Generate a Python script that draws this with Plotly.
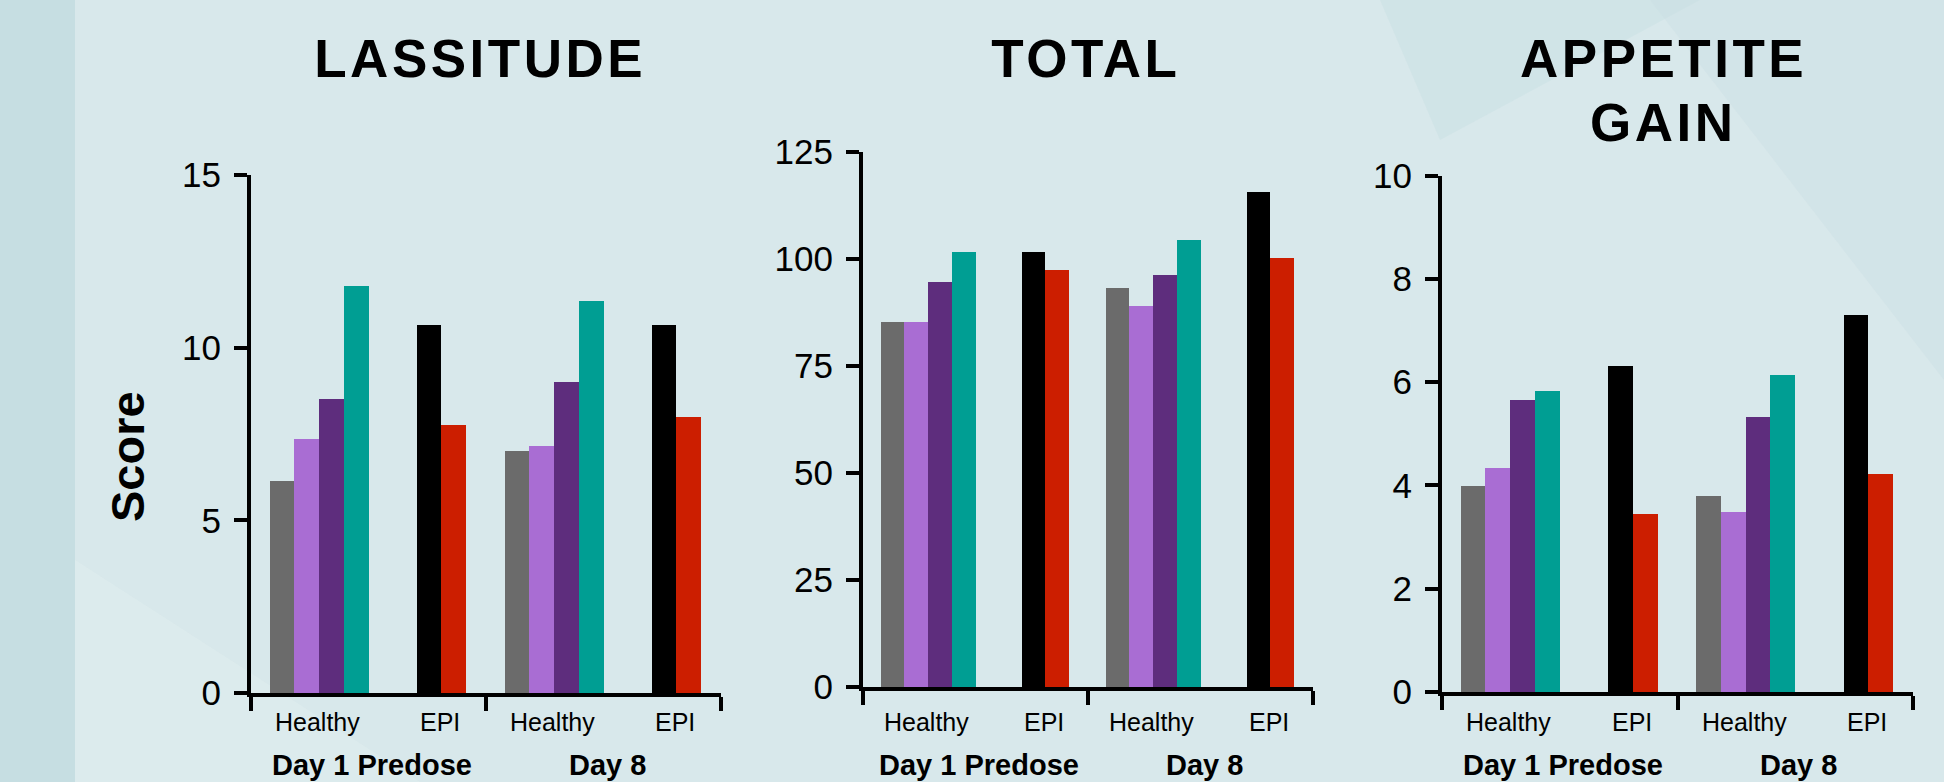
import json
import plotly.graph_objects as go

# ---- categories -------------------------------------------------------
DAYS = ["Day 1 Predose", "Day 8"]
GROUPS = ["Healthy", "EPI"]
PANEL_TITLES = [["LASSITUDE"], ["TOTAL"], ["APPETITE", "GAIN"]]
Y_AXIS_TITLE = "Score"

# ---- series colours (4 healthy cohorts, 2 EPI cohorts) -----------------
HEALTHY_COLORS = ["#6b6b6b", "#a96dd3", "#5e2d7d", "#009e93"]
EPI_COLORS = ["#000000", "#cc1e00"]

# ---- values -------------------------------------------------------------
LASSITUDE_HEALTHY_DAY1 = [6.15, 7.35, 8.5, 11.8]
LASSITUDE_HEALTHY_DAY8 = [7.0, 7.15, 9.0, 11.35]
LASSITUDE_EPI_DAY1 = [10.65, 7.75]
LASSITUDE_EPI_DAY8 = [10.65, 8.0]

TOTAL_HEALTHY_DAY1 = [85.3, 85.3, 94.6, 101.6]
TOTAL_HEALTHY_DAY8 = [93.3, 89.0, 96.2, 104.5]
TOTAL_EPI_DAY1 = [101.6, 97.4]
TOTAL_EPI_DAY8 = [115.6, 100.2]

APPETITE_HEALTHY_DAY1 = [4.0, 4.34, 5.67, 5.84]
APPETITE_HEALTHY_DAY8 = [3.8, 3.5, 5.33, 6.15]
APPETITE_EPI_DAY1 = [6.32, 3.45]
APPETITE_EPI_DAY8 = [7.31, 4.24]

# ---- axis ticks -----------------------------------------------------------
Y_TICKS = [[0, 5, 10, 15], [0, 25, 50, 75, 100, 125], [0, 2, 4, 6, 8, 10]]

# ---- page geometry (pixels) ----------------------------------------------
W, H = 1944, 782
PANEL_BOX = [(251, 721, 175, 693), (863, 1313, 152, 687), (1442, 1913, 175.5, 692)]
HALF = 9.5            # width of one day block in bar units
HEALTHY_FIRST = 1.25  # centre of first healthy bar inside a block
EPI_FIRST = 7.2       # centre of first EPI bar inside a block
FONT = "Liberation Sans, Arial, sans-serif"

panels = [
    (LASSITUDE_HEALTHY_DAY1, LASSITUDE_HEALTHY_DAY8, LASSITUDE_EPI_DAY1, LASSITUDE_EPI_DAY8),
    (TOTAL_HEALTHY_DAY1, TOTAL_HEALTHY_DAY8, TOTAL_EPI_DAY1, TOTAL_EPI_DAY8),
    (APPETITE_HEALTHY_DAY1, APPETITE_HEALTHY_DAY8, APPETITE_EPI_DAY1, APPETITE_EPI_DAY8),
]


def py(p):
    return 1 - p / H


fig = go.Figure()
layout = dict(
    width=W, height=H, autosize=False,
    margin=dict(l=0, r=0, t=0, b=0, pad=0, autoexpand=False),
    paper_bgcolor="#d8e8eb", plot_bgcolor="rgba(0,0,0,0)",
    showlegend=False, bargap=0, barmode="overlay",
    font=dict(family=FONT, color="black"),
)
annotations = []

for p, (h1, h8, e1, e8) in enumerate(panels):
    sfx = "" if p == 0 else str(p + 1)
    xa, ya = "x" + sfx, "y" + sfx
    for i, col in enumerate(HEALTHY_COLORS):
        fig.add_trace(go.Bar(
            x=[HEALTHY_FIRST + i, HEALTHY_FIRST + i + HALF], y=[h1[i], h8[i]],
            width=1, marker=dict(color=col, line=dict(width=0)),
            xaxis=xa, yaxis=ya, hoverinfo="y"))
    for j, col in enumerate(EPI_COLORS):
        fig.add_trace(go.Bar(
            x=[EPI_FIRST + j, EPI_FIRST + j + HALF], y=[e1[j], e8[j]],
            width=1, marker=dict(color=col, line=dict(width=0)),
            xaxis=xa, yaxis=ya, hoverinfo="y"))

    x0, x1, ytop, ybot = PANEL_BOX[p]
    layout["xaxis" + sfx] = dict(
        domain=[x0 / W, x1 / W], range=[0, 2 * HALF], anchor=ya,
        showline=True, linewidth=4, linecolor="black",
        ticks="outside", tickvals=[0, HALF, 2 * HALF], ticklen=14, tickwidth=4,
        tickcolor="black", showticklabels=False, showgrid=False, zeroline=False,
        fixedrange=True)
    layout["yaxis" + sfx] = dict(
        domain=[py(ybot), py(ytop)], range=[0, Y_TICKS[p][-1]], anchor=xa,
        showline=True, linewidth=4, linecolor="black",
        ticks="outside", tickvals=Y_TICKS[p], ticklen=13, tickwidth=4,
        tickcolor="black", tickfont=dict(size=35, family=FONT),
        ticklabelstandoff=6, showgrid=False, zeroline=False, fixedrange=True)

    # group and day labels below each axis
    for d in range(2):
        annotations.append(dict(
            text=GROUPS[0], x=2.7 + d * HALF, y=py(722), xref=xa, yref="paper",
            showarrow=False, xanchor="center", yanchor="middle",
            font=dict(size=25, family=FONT)))
        annotations.append(dict(
            text=GROUPS[1], x=7.65 + d * HALF, y=py(722), xref=xa, yref="paper",
            showarrow=False, xanchor="center", yanchor="middle",
            font=dict(size=25, family=FONT)))
        annotations.append(dict(
            text="<b>%s</b>" % DAYS[d], x=[4.9, 14.4][d], y=py(765), xref=xa,
            yref="paper", showarrow=False, xanchor="center", yanchor="middle",
            font=dict(size=29, family=FONT)))

# panel titles, one annotation per heading line
TITLE_X = [480, 1086, 1663]
TITLE_TOP = 58
TITLE_LINE = 64
for p, lines in enumerate(PANEL_TITLES):
    for k, line in enumerate(lines):
        annotations.append(dict(
            text="<b>%s</b>" % line, x=TITLE_X[p] / W,
            y=py(TITLE_TOP + k * TITLE_LINE), xref="paper", yref="paper",
            showarrow=False, xanchor="center", yanchor="middle",
            font=dict(size=53, family=FONT)))

# shared y title
annotations.append(dict(
    text="<b>%s</b>" % Y_AXIS_TITLE, x=127 / W, y=py(456), xref="paper", yref="paper",
    showarrow=False, xanchor="center", yanchor="middle", textangle=-90,
    font=dict(size=47, family=FONT)))

# faceted backdrop
shapes = [
    dict(type="rect", xref="paper", yref="paper", x0=0, x1=75 / W, y0=0, y1=1,
         fillcolor="#c6dee2", line=dict(width=0), layer="below"),
    dict(type="path", xref="paper", yref="paper",
         path="M %f 1 L %f %f L %f 1 Z" % (1380 / W, 1440 / W, py(140), 1700 / W),
         fillcolor="#c4dce0", opacity=0.35, line=dict(width=0), layer="below"),
    dict(type="path", xref="paper", yref="paper",
         path="M %f 1 L 1 %f L 1 1 Z" % (1650 / W, py(380)),
         fillcolor="#c8dde1", opacity=0.35, line=dict(width=0), layer="below"),
    dict(type="path", xref="paper", yref="paper",
         path="M %f 0 L %f %f L %f 0 Z" % (75 / W, 75 / W, py(560), 420 / W),
         fillcolor="#e2eff0", opacity=0.45, line=dict(width=0), layer="below"),
]

layout["annotations"] = annotations
layout["shapes"] = shapes
fig.update_layout(**layout)

# widen the tracking of the bold panel headings
heading_words = [w for lines in PANEL_TITLES for w in lines]
spacing_js = """
var heads = %s;
document.querySelectorAll('g.annotation text.annotation-text').forEach(function(t){
  var raw = (t.getAttribute('data-unformatted') || '').replace(/<\\/?b>/g, '');
  if (heads.indexOf(raw) >= 0) { t.style.letterSpacing = '3.5px'; }
});
""" % json.dumps(heading_words)

fig.write_html("out.html", post_script=spacing_js, config={"displayModeBar": False})
